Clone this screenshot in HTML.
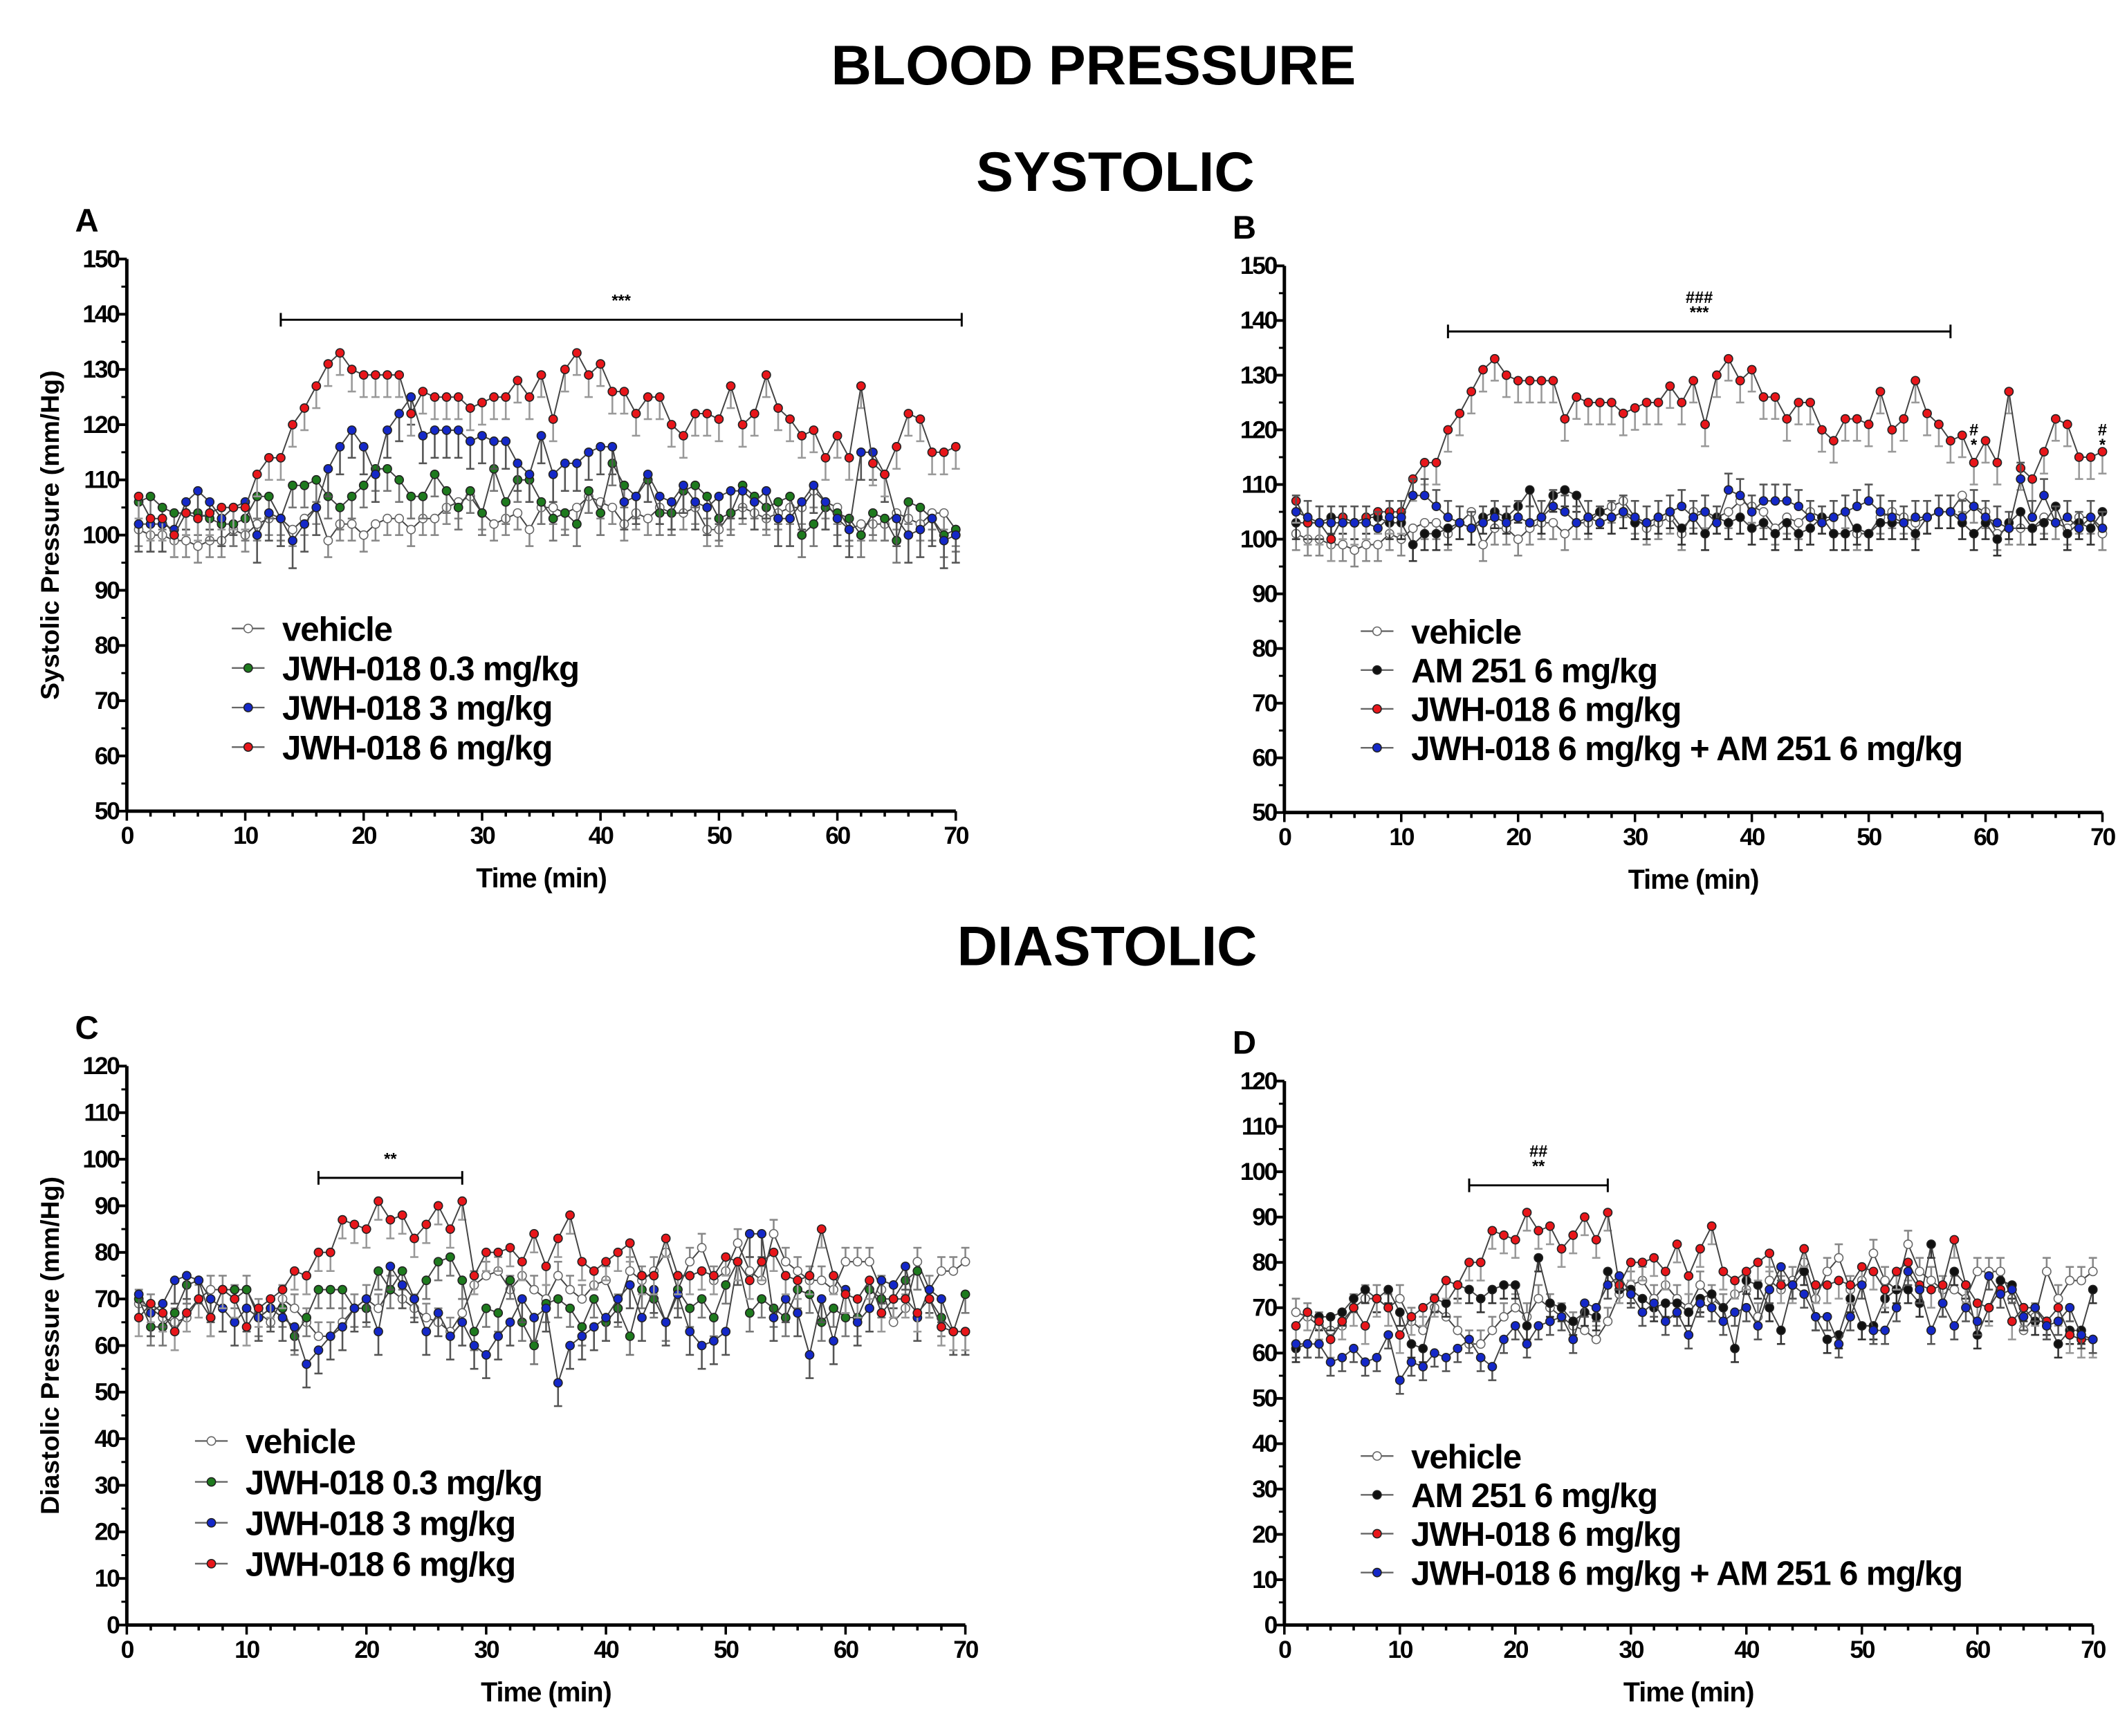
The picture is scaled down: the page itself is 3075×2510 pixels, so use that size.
<!DOCTYPE html>
<html><head><meta charset="utf-8"><style>
html,body{margin:0;padding:0;background:#fff;}
svg{display:block;font-family:"Liberation Sans",Arial,sans-serif;font-weight:bold;}
</style></head><body>
<svg id="fig" width="3075" height="2510" viewBox="0 0 1560 1273.4" xmlns="http://www.w3.org/2000/svg">
<text x="802" y="62" font-size="41" text-anchor="middle">BLOOD PRESSURE</text>
<text x="818" y="140" font-size="41" text-anchor="middle">SYSTOLIC</text>
<text x="812" y="708" font-size="41" text-anchor="middle">DIASTOLIC</text>
</svg>
<script>
const times = Array.from({length:70},(_,i)=>i+1);
const sysVehicle=[101,100,100,99,99,98,99,99,101,100,102,103,103,101,103,105,99,102,102,100,102,103,103,101,103,103,105,106,107,104,102,103,104,101,105,105,104,105,107,106,105,102,104,103,105,104,104,105,101,101,104,105,104,103,104,105,105,108,106,105,101,102,102,102,104,103,102,104,104,101];
const sysLow=[106,107,105,104,104,104,103,102,102,103,107,107,103,109,109,110,107,105,107,109,112,112,110,107,107,111,108,105,108,104,112,106,110,110,106,103,104,102,108,104,113,109,107,110,104,104,108,109,107,103,104,109,107,105,106,107,100,102,105,104,103,100,104,103,99,106,105,103,100,101];
const sysMid=[102,102,102,101,106,108,106,103,105,106,100,104,103,99,102,105,112,116,119,116,111,119,122,125,118,119,119,119,117,118,117,117,113,111,118,111,113,113,115,116,116,106,107,111,107,106,109,106,105,107,108,108,106,108,103,103,106,109,106,103,101,115,115,111,103,100,101,103,99,100];
const sysHigh=[107,103,103,100,104,103,104,105,105,105,111,114,114,120,123,127,131,133,130,129,129,129,129,122,126,125,125,125,123,124,125,125,128,125,129,121,130,133,129,131,126,126,122,125,125,120,118,122,122,121,127,120,122,129,123,121,118,119,114,118,114,127,113,111,116,122,121,115,115,116];
const sysAM=[103,103,103,104,104,103,104,104,103,103,99,101,101,102,103,102,104,105,104,106,109,104,108,109,108,104,105,104,105,103,103,104,105,102,104,101,104,103,104,102,103,101,103,101,102,104,101,101,102,101,103,103,103,101,104,105,105,103,101,103,100,103,105,102,103,106,101,103,102,105];
const sysCombo=[105,104,103,103,103,103,103,102,104,104,108,108,106,104,103,102,103,104,103,104,103,104,106,105,103,104,103,104,105,104,103,104,105,106,104,105,103,109,108,105,107,107,107,106,104,103,104,105,106,107,105,104,103,104,104,105,105,104,106,104,103,102,111,104,108,103,104,102,104,102];
const diaVehicle=[69,68,66,65,66,70,72,72,70,72,67,65,70,68,65,62,62,65,68,70,68,72,70,68,66,65,63,67,73,75,76,72,75,72,70,75,72,70,73,74,68,76,74,76,80,72,78,81,74,76,82,76,74,84,78,76,74,74,72,78,78,78,72,65,68,78,72,76,76,78];
const diaLow=[70,64,64,67,73,74,66,72,72,72,66,68,68,62,66,72,72,72,68,68,76,72,76,70,74,78,79,74,63,68,67,74,65,60,69,70,68,64,70,65,68,62,72,70,65,72,68,70,66,73,78,67,70,68,66,72,71,65,68,66,66,72,70,70,74,76,70,66,63,71];
const diaMid=[71,67,69,74,75,74,70,68,65,68,66,68,66,64,56,59,62,64,68,70,63,77,73,70,63,67,62,65,60,58,62,65,70,66,68,52,60,62,64,66,70,73,66,72,65,71,63,60,61,63,78,84,84,66,70,67,58,70,61,72,65,68,74,73,77,66,72,70,63,63];
const diaHigh=[66,69,67,63,67,70,66,72,70,64,68,70,72,76,75,80,80,87,86,85,91,87,88,83,86,90,85,91,75,80,80,81,78,84,77,83,88,78,76,78,80,82,75,75,83,75,75,76,75,79,78,74,78,80,75,74,75,85,75,71,70,74,67,70,70,67,70,64,63,63];
const diaAM=[61,62,68,68,69,72,74,72,74,69,62,61,72,71,75,74,72,74,75,75,66,81,71,70,67,69,68,78,74,74,72,70,71,71,69,72,73,70,61,76,75,70,65,75,78,68,63,64,72,66,66,72,74,74,71,84,71,78,75,64,70,76,75,70,67,67,62,65,65,74];
const diaCombo=[62,62,62,58,59,61,58,59,64,54,58,57,60,59,61,63,59,57,63,66,62,66,67,68,63,71,70,75,77,73,69,71,67,69,64,71,70,67,69,70,66,74,79,75,73,68,68,62,68,75,65,65,70,78,74,65,71,66,70,67,77,73,74,68,70,66,67,70,64,63];
const sysTicks=[50,60,70,80,90,100,110,120,130,140,150];
const diaTicks=[0,10,20,30,40,50,60,70,80,90,100,110,120];
const xTicks=[0,10,20,30,40,50,60,70];
const errSize={vehicle:3,low:4,mid:5,high:4,am:3,combo:3};

const NS="http://www.w3.org/2000/svg";
const svg=document.getElementById('fig');
function mk(tag,attrs,parent){const e=document.createElementNS(NS,tag);for(const k in attrs)e.setAttribute(k,attrs[k]);(parent||svg).appendChild(e);return e;}
function txt(s,attrs,parent){const e=mk('text',attrs,parent);e.textContent=s;return e;}
const R=3.1;
function panel(p){
  const g=mk('g',{});
  
  
  const X=v=>p.x0+(v/70)*(p.x1-p.x0);
  const Y=v=>p.yb+(v-p.ymin)/(p.ymax-p.ymin)*(p.yt-p.yb);
  const lab=txt(p.letter,{x:p.x0-38,y:p.yt-20,'font-size':24},g);
  
  const ya=mk('line',{x1:p.x0,y1:p.yt,x2:p.x0,y2:p.yb,stroke:'#000','stroke-width':2.5},g);
  
  const xa=mk('line',{x1:p.x0,y1:p.yb,x2:p.x1,y2:p.yb,stroke:'#000','stroke-width':2.5},g);
  
  p.yticks.forEach(v=>{
    mk('line',{x1:p.x0-7,y1:Y(v),x2:p.x0,y2:Y(v),stroke:'#000','stroke-width':2},g);
    const t=txt(String(v),{x:p.x0-6,y:Y(v)+6,'font-size':18,'text-anchor':'end','letter-spacing':'-1.2'},g);
    
  });
  for(let i=0;i<p.yticks.length-1;i++){const m=(p.yticks[i]+p.yticks[i+1])/2;mk('line',{x1:p.x0-4,y1:Y(m),x2:p.x0,y2:Y(m),stroke:'#000','stroke-width':1.5},g);}
  for(let v=0;v<=70;v+=2){mk('line',{x1:X(v),y1:p.yb,x2:X(v),y2:p.yb+(v%10===0?7:4),stroke:'#000','stroke-width':1.8},g);}
  xTicks.forEach(v=>{const t=txt(String(v),{x:X(v),y:p.yb+24,'font-size':18,'text-anchor':'middle','letter-spacing':'-1.2'},g);
    });
  const xt=txt('Time (min)',{x:(p.x0+p.x1)/2,y:p.yb+56,'font-size':20,'text-anchor':'middle','letter-spacing':'-0.5'},g);
  
  if(p.ytitle){const yt=txt(p.ytitle,{x:0,y:0,'font-size':19,'text-anchor':'middle',transform:`translate(${p.x0-50},${(p.yt+p.yb)/2}) rotate(-90)`},g);
    }
  p.sig.forEach(s=>{
    const sg=mk('g',{},g);
    
    mk('line',{x1:X(s.from),y1:Y(s.y),x2:X(s.to),y2:Y(s.y),stroke:'#000','stroke-width':1.5},sg);
    mk('line',{x1:X(s.from),y1:Y(s.y)-5,x2:X(s.from),y2:Y(s.y)+5,stroke:'#000','stroke-width':1.5},sg);
    mk('line',{x1:X(s.to),y1:Y(s.y)-5,x2:X(s.to),y2:Y(s.y)+5,stroke:'#000','stroke-width':1.5},sg);
    s.labels.forEach((l,i)=>txt(l,{x:X((s.from+s.to)/2),y:Y(s.y)-10-(s.labels.length-1-i)*11,'font-size':12,'text-anchor':'middle'},sg));
  });
  (p.marks||[]).forEach(m=>{m.labels.forEach((l,i)=>{const t=txt(l,{x:X(m.t),y:Y(m.y)+i*11,'font-size':12,'text-anchor':'middle'},g);
    });});
  p.series.forEach(s=>{
    const sg=mk('g',{},g);
    
    const e=errSize[s.err];
    s.data.forEach((v,i)=>{const x=X(times[i]);const y2=Y(v+s.dir*e);
      mk('line',{x1:x,y1:Y(v),x2:x,y2:y2,stroke:s.ecol,'stroke-width':1.3},sg);
      mk('line',{x1:x-3,y1:y2,x2:x+3,y2:y2,stroke:s.ecol,'stroke-width':1.3},sg);});
    mk('polyline',{points:s.data.map((v,i)=>X(times[i])+','+Y(v)).join(' '),fill:'none',stroke:'#444','stroke-width':1},sg);
    s.data.forEach((v,i)=>{const c=mk('circle',{cx:X(times[i]),cy:Y(v),r:R,fill:s.fill,stroke:s.fill==='#fff'?'#666':'#222','stroke-width':0.8},sg);
      });
  });
  const lg=mk('g',{},g);
  
  p.legend.rows.forEach((r,i)=>{
    const y=p.legend.y+i*p.legend.dy;
    const le=mk('g',{},lg);
    
    mk('line',{x1:p.legend.x-12,y1:y,x2:p.legend.x+12,y2:y,stroke:'#666','stroke-width':1.2},le);
    mk('circle',{cx:p.legend.x,cy:y,r:R,fill:r.fill,stroke:r.fill==='#fff'?'#666':'#222','stroke-width':0.8},le);
    txt(r.label,{x:p.legend.x+25,y:y+9,'font-size':25,'letter-spacing':'-0.6'},le);
  });
}
const WHITE='#fff',GREEN='#1e7a1e',BLUE='#1428c8',RED='#e8161a',BLACK='#111';
const legA=[{label:'vehicle',fill:WHITE},{label:'JWH-018 0.3 mg/kg',fill:GREEN},{label:'JWH-018 3 mg/kg',fill:BLUE},{label:'JWH-018 6 mg/kg',fill:RED}];
const legB=[{label:'vehicle',fill:WHITE},{label:'AM 251 6 mg/kg',fill:BLACK},{label:'JWH-018 6 mg/kg',fill:RED},{label:'JWH-018 6 mg/kg + AM 251 6 mg/kg',fill:BLUE}];
panel({name:'panel-a-systolic',letter:'A',x0:93,x1:701,yt:190,yb:595,ymin:50,ymax:150,yticks:sysTicks,ytitle:'Systolic Pressure (mm/Hg)',
  sig:[{from:13,to:70.5,y:139,labels:['***']}],
  series:[{name:'series-vehicle',data:sysVehicle,fill:WHITE,ecol:'#888',dir:-1,err:'vehicle'},
    {name:'series-jwh-0-3',data:sysLow,fill:GREEN,ecol:'#777',dir:-1,err:'low'},
    {name:'series-jwh-3',data:sysMid,fill:BLUE,ecol:'#555',dir:-1,err:'mid'},
    {name:'series-jwh-6',data:sysHigh,fill:RED,ecol:'#999',dir:-1,err:'high'}],
  legend:{x:182,y:461,dy:29,rows:legA}});
panel({name:'panel-b-systolic',letter:'B',x0:942,x1:1542,yt:195,yb:596,ymin:50,ymax:150,yticks:sysTicks,
  sig:[{from:14,to:57,y:138,labels:['###','***']}],
  marks:[{t:59,y:119,labels:['#','*']},{t:70,y:119,labels:['#','*']}],
  series:[{name:'series-vehicle',data:sysVehicle,fill:WHITE,ecol:'#888',dir:-1,err:'vehicle'},
    {name:'series-am251',data:sysAM,fill:BLACK,ecol:'#333',dir:-1,err:'am'},
    {name:'series-jwh-6',data:sysHigh,fill:RED,ecol:'#999',dir:-1,err:'high'},
    {name:'series-jwh-6-am251',data:sysCombo,fill:BLUE,ecol:'#555',dir:1,err:'combo'}],
  legend:{x:1010,y:463,dy:28.5,rows:legB}});
panel({name:'panel-c-diastolic',letter:'C',x0:93,x1:708,yt:782,yb:1192,ymin:0,ymax:120,yticks:diaTicks,ytitle:'Diastolic Pressure (mm/Hg)',
  sig:[{from:16,to:28,y:96,labels:['**']}],
  series:[{name:'series-vehicle',data:diaVehicle,fill:WHITE,ecol:'#888',dir:1,err:'vehicle'},
    {name:'series-jwh-0-3',data:diaLow,fill:GREEN,ecol:'#777',dir:-1,err:'low'},
    {name:'series-jwh-3',data:diaMid,fill:BLUE,ecol:'#555',dir:-1,err:'mid'},
    {name:'series-jwh-6',data:diaHigh,fill:RED,ecol:'#999',dir:-1,err:'high'}],
  legend:{x:155,y:1057,dy:30,rows:legA}});
panel({name:'panel-d-diastolic',letter:'D',x0:942,x1:1535,yt:793,yb:1192,ymin:0,ymax:120,yticks:diaTicks,
  sig:[{from:16,to:28,y:97,labels:['##','**']}],
  series:[{name:'series-vehicle',data:diaVehicle,fill:WHITE,ecol:'#888',dir:1,err:'vehicle'},
    {name:'series-am251',data:diaAM,fill:BLACK,ecol:'#333',dir:-1,err:'am'},
    {name:'series-jwh-6',data:diaHigh,fill:RED,ecol:'#999',dir:-1,err:'high'},
    {name:'series-jwh-6-am251',data:diaCombo,fill:BLUE,ecol:'#555',dir:-1,err:'combo'}],
  legend:{x:1010,y:1068,dy:28.5,rows:legB}});
</script>
</body></html>
